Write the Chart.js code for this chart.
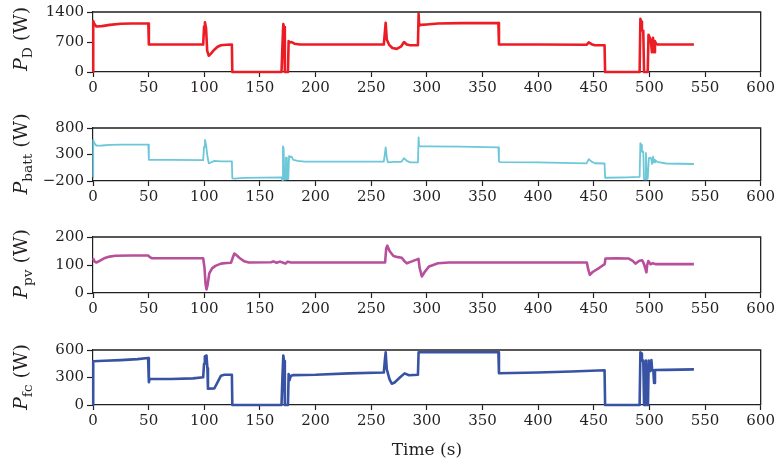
<!DOCTYPE html>
<html>
<head>
<meta charset="utf-8">
<script src="https://cdn.jsdelivr.net/npm/chart.js@4"></script>
<style>
  body { margin: 0; background: #fff; }
  #wrap { position: relative; width: 777px; height: 465px; overflow: hidden; }
  canvas { position: absolute; left: 0; }
  .ytitle {
    position: absolute;
    left: 22px;
    transform: translate(-50%, -50%) rotate(-90deg);
    white-space: nowrap;
    font-family: "DejaVu Serif", serif;
    font-size: 19px;
    color: #231f20;
  }
  .ytitle sub { font-size: 0.72em; vertical-align: -0.3em; }
</style>
</head>
<body>
<div id="wrap">
  <canvas id="c0"></canvas>
  <canvas id="c1"></canvas>
  <canvas id="c2"></canvas>
  <canvas id="c3"></canvas>
  <div class="ytitle" style="top:39px"><i>P</i><sub>D</sub> (W)</div>
  <div class="ytitle" style="top:154px"><i>P</i><sub>batt</sub> (W)</div>
  <div class="ytitle" style="top:264px"><i>P</i><sub>pv</sub> (W)</div>
  <div class="ytitle" style="top:377px"><i>P</i><sub>fc</sub> (W)</div>
</div>
<script>
// P_D
const timeD = [0, 0.2, 1, 3, 8, 15, 25, 35, 49.7, 50.2, 99, 99.8, 100.6, 101.6, 102.6, 104, 106, 109, 112, 115,
  120, 124.8, 125.2, 169.4, 170.2, 171, 171.7, 172.4, 175.2, 175.8, 177, 178.5, 181, 186, 230, 261.3, 262.2, 263,
  264, 266, 269, 273, 277, 279.5, 282, 285, 292, 292.6, 293.1, 294, 300, 310, 330, 364.3, 364.8, 400, 443.5, 445.5,
  448, 451, 459.7, 460.2, 491.2, 491.9, 492.5, 493.3, 494.5, 495.2, 498.5, 499.2, 500.3, 501.3, 502.3, 503.2, 504.2,
  505, 506, 507.5, 540];
const valD = [0, 1190, 1130, 1060, 1070, 1100, 1125, 1130, 1130, 640, 640, 1060, 1160, 1020, 500, 380, 430, 520, 590, 625,
  635, 640, 0, 0, 600, 1120, 1050, 0, 0, 720, 690, 700, 660, 640, 640, 640, 900, 1150,
  760, 640, 560, 540, 600, 700, 640, 625, 625, 1360, 1080, 1100, 1110, 1130, 1140, 1145, 640, 640, 635, 690,
  650, 625, 625, 0, 0, 1240, 1180, 970, 960, 0, 0, 870, 800, 720, 460, 800, 460,
  720, 660, 640, 640];

// P_batt
const timeB = [0, 0.2, 1, 3, 8, 15, 25, 49.7, 50.2, 70, 99, 99.8, 100.6, 101.6, 102.6, 104, 106, 109, 112, 115,
  124.8, 125.2, 127, 135, 169.4, 170.1, 170.7, 171.3, 172, 172.8, 173.4, 174.2, 174.8, 175.5, 176.2, 177.5, 178.5,
  180, 184, 190, 261.3, 262.2, 263, 264, 265, 270, 277, 279.5, 282, 285, 292, 292.6, 293.1, 300, 330, 364.3, 364.8,
  366, 400, 443.5, 445.5, 448, 451, 459.7, 460.2, 480, 491.2, 491.9, 492.6, 493.3, 494.5, 495.2, 496.2, 496.9, 497.6,
  498.5, 499.5, 500.5, 501.5, 502.5, 503.3, 504.2, 505, 507, 515, 540];
const valB = [-130, 576, 520, 467, 470, 480, 488, 488, 200, 198, 194, 450, 576, 485, 300, 133, 150, 180, 175, 170,
  170, -150, -155, -140, -133, -182, 455, 420, -170, -170, 240, 240, -165, -160, 273, 250, 260,
  200, 180, 164, 164, 300, 436, 240, 152, 162, 160, 230, 180, 152, 152, 624, 455, 455, 450, 436, 170,
  155, 150, 133, 212, 165, 135, 130, -139, -130, -121, 515, 480, 352, 352, -170, -170, 330, -170,
  -150, 230, 242, 230, 121, 260, 150, 200, 160, 130, 121];

// P_pv
const timeV = [0, 1.5, 3, 6, 10, 15, 20, 35, 49.7, 51, 53, 99, 100.2, 101.2, 102, 103, 104.5, 107, 110, 115,
  120, 124, 125.5, 127, 129, 132, 136, 140, 160, 162, 165, 168, 171, 173, 175, 178, 262.5, 263.5, 264.5, 266.5,
  270, 274, 277.5, 280, 282, 286, 292.5, 293.5, 295.5, 298, 302, 310, 320, 443.8, 445, 446.5, 449, 455, 459.8,
  460.5, 470, 481.5, 485, 487.5, 491, 493.5, 495, 496.5, 497.3, 498, 499, 501, 503, 506, 540];
const valV = [124, 112, 109, 115, 124, 130, 133, 134, 134, 128, 124, 124, 90, 30, 13, 30, 70, 88, 97, 105,
  107, 108, 125, 141, 135, 124, 113, 109, 110, 113, 108, 112, 108, 105, 112, 109, 109, 160, 169, 150,
  132, 128, 126, 113, 106, 112, 122, 90, 59, 75, 95, 106, 109, 109, 85, 65, 75, 90, 103,
  123, 124, 123, 115, 105, 115, 117, 105, 85, 74, 100, 114, 103, 106, 103, 103];

// P_fc
const timeF = [0, 0.2, 10, 25, 40, 49.5, 50.2, 51, 70, 90, 99, 99.8, 100.5, 102, 102.8, 103.3, 109, 112, 115, 118,
  124.8, 125.2, 169.4, 170.2, 171, 171.7, 172.4, 175.2, 175.8, 176.6, 177.3, 178, 180, 200, 230, 261.3, 262.2, 263,
  264, 265, 266.5, 268.5, 271, 276, 280, 284, 292, 292.6, 330, 364.3, 364.8, 400, 430, 459.7, 460.2, 491.2, 491.9,
  492.6, 493.3, 494.5, 495.2, 496.2, 496.9, 497.6, 498.7, 499.4, 500.3, 501, 501.8, 502.5, 503.5, 504.2, 505, 515, 540];
const valF = [0, 477, 482, 490, 500, 512, 249, 285, 284, 290, 302, 450, 530, 540, 400, 179, 180, 250, 320, 330,
  330, 0, 0, 300, 540, 480, 0, 0, 337, 270, 300, 320, 326, 330, 345, 354, 480, 575,
  390, 345, 280, 232, 245, 302, 345, 325, 330, 575, 575, 575, 347, 355, 365, 379, 0, 0, 575,
  560, 484, 484, 0, 0, 484, 0, 0, 484, 420, 370, 490, 382, 382, 240, 382, 383, 389];

const xTicks = [0, 50, 100, 150, 200, 250, 300, 350, 400, 450, 500, 550, 600];
const yRanges = [[0, 1400, 700], [-200, 800, 500], [0, 200, 100], [0, 600, 300]];

const INK = "#231f20";
const FONT = "DejaVu Serif";

// plot area top/bottom in page pixels
const panels = [
  { top: 10, bottom: 72, color: "#ec1c24", width: 2.6, t: timeD, v: valD },
  { top: 126, bottom: 181, color: "#6cc8d9", width: 1.8, t: timeB, v: valB },
  { top: 235, bottom: 293, color: "#b84f9b", width: 2.6, t: timeV, v: valV },
  { top: 348, bottom: 405, color: "#3853a4", width: 2.6, t: timeF, v: valF },
];

const frame = {
  id: "frame",
  afterDraw(chart) {
    const { ctx, chartArea: a } = chart;
    ctx.save();
    ctx.strokeStyle = INK;
    ctx.lineWidth = 1.3;
    ctx.beginPath();
    ctx.moveTo(a.left, a.top);
    ctx.lineTo(a.right, a.top);
    ctx.lineTo(a.right, a.bottom);
    ctx.stroke();
    ctx.restore();
  },
};

panels.forEach((p, i) => {
  const padTop = 10;
  const last = i === panels.length - 1;
  const xH = last ? 56 : 28;
  const canvas = document.getElementById("c" + i);
  canvas.width = 777;
  canvas.height = p.bottom - p.top + padTop + xH;
  canvas.style.top = p.top - padTop + "px";

  const [yMin, yMax, yStep] = yRanges[i];

  new Chart(canvas, {
    type: "line",
    data: {
      datasets: [
        {
          data: p.t.map((t, k) => ({ x: t, y: p.v[k] })),
          borderColor: p.color,
          borderWidth: p.width,
          pointRadius: 0,
          tension: 0,
          borderJoinStyle: "round",
          clip: 4,
        },
      ],
    },
    options: {
      responsive: false,
      animation: false,
      devicePixelRatio: 1,
      layout: { padding: { top: padTop, right: 15, left: 0, bottom: 0 } },
      plugins: { legend: { display: false }, tooltip: { enabled: false } },
      scales: {
        x: {
          type: "linear",
          min: 0,
          max: 600,
          afterBuildTicks: (scale) => {
            scale.ticks = xTicks.map((value) => ({ value }));
          },
          afterFit: (scale) => {
            scale.height = xH;
          },
          grid: { drawOnChartArea: false, tickLength: 5, tickColor: INK, tickWidth: 1.2 },
          border: { color: INK, width: 1.2 },
          ticks: {
            color: INK,
            padding: 2,
            maxRotation: 0,
            font: { family: FONT, size: 15 },
            callback: (value) => String(value),
          },
          title: {
            display: last,
            text: "Time (s)",
            color: INK,
            font: { family: FONT, size: 17 },
            padding: { top: 3, bottom: 0 },
          },
        },
        y: {
          min: yMin,
          max: yMax,
          ticks: {
            stepSize: yStep,
            color: INK,
            padding: 3,
            font: { family: FONT, size: 15 },
            callback: (value) => (value < 0 ? "\u2212" + Math.abs(value) : String(value)),
          },
          afterFit: (scale) => {
            scale.width = 93;
          },
          grid: { drawOnChartArea: false, tickLength: 6, tickColor: INK, tickWidth: 1.2 },
          border: { color: INK, width: 1.2 },
        },
      },
    },
    plugins: [frame],
  });
});
</script>
</body>
</html>
